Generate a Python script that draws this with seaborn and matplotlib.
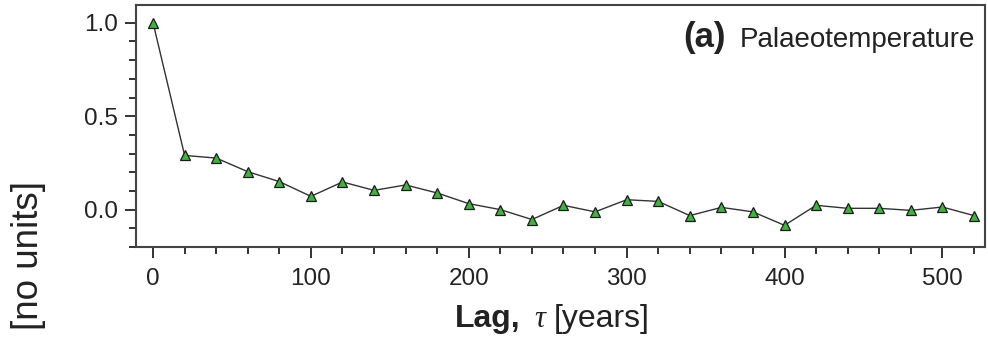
import matplotlib
matplotlib.use("Agg")
import matplotlib.pyplot as plt
import seaborn as sns
import pandas as pd
from matplotlib.ticker import MultipleLocator

# Autocorrelation of the palaeotemperature record
lag_years = [0, 20, 40, 60, 80, 100, 120, 140, 160, 180, 200, 220, 240, 260,
             280, 300, 320, 340, 360, 380, 400, 420, 440, 460, 480, 500, 520]
acf_values = [1.0, 0.29, 0.276, 0.203, 0.15, 0.071, 0.148, 0.103, 0.132, 0.089,
              0.032, 0.0, -0.053, 0.023, -0.012, 0.053, 0.044, -0.032, 0.012,
              -0.012, -0.084, 0.023, 0.007, 0.007, -0.004, 0.014, -0.032]
y_major_ticks = [0.0, 0.5, 1.0]
x_major_ticks = [0, 100, 200, 300, 400, 500]

df = pd.DataFrame({"lag": lag_years, "acf": acf_values})

sns.set_theme(style="ticks")
plt.rcParams["font.family"] = ["Liberation Sans", "DejaVu Sans"]

W, H = 988, 338
fig = plt.figure(figsize=(W / 100, H / 100), dpi=100)
ax = fig.add_axes([136 / W, 1 - 247 / H, (985 - 136) / W, (247 - 5) / H])

sns.lineplot(data=df, x="lag", y="acf", ax=ax, color="#333333", linewidth=1.0,
             marker="^", markersize=6.5, markerfacecolor="#44b044",
             markeredgecolor="#1a1a1a", markeredgewidth=0.9)

ax.set_xlim(-10.8, 527)
ax.set_ylim(-0.2, 1.095)
ax.set_xticks(x_major_ticks)
ax.set_yticks(y_major_ticks)
ax.set_yticklabels([f"{v:.1f}" for v in y_major_ticks])
ax.xaxis.set_minor_locator(MultipleLocator(20))
ax.yaxis.set_minor_locator(MultipleLocator(0.1))
ax.tick_params(axis="both", which="major", direction="out", length=8, width=1.4,
               color="#333333", labelsize=17.5, labelcolor="#222222", pad=5)
ax.tick_params(axis="both", which="minor", direction="out", length=5, width=1.4,
               color="#333333")
ax.tick_params(axis="x", which="major", pad=7)
for side in ["top", "right", "bottom", "left"]:
    ax.spines[side].set_visible(True)
    ax.spines[side].set_color("#444444")
    ax.spines[side].set_linewidth(1.5)
ax.set_xlabel("")
ax.set_ylabel("")

# Axis label pieces: bold word, italic serif tau, plain units
base = 1 - 327 / H
fig.text(455 / W, base, "Lag,", fontsize=23, fontweight="bold",
         color="#222222", ha="left", va="baseline")
fig.text(534 / W, base, "\u03c4", fontsize=22, style="italic",
         family=["Liberation Serif", "DejaVu Serif"], color="#222222",
         ha="left", va="baseline")
fig.text(554 / W, base, "[years]", fontsize=23, color="#222222",
         ha="left", va="baseline")

fig.text(29 / W, 1 - 181 / H, "[no units]", rotation=90, fontsize=26.5,
         color="#222222", ha="center", va="top")

# Panel tag and title
fig.text(683 / W, 1 - 47 / H, "(a)", fontsize=25, fontweight="bold",
         color="#222222", ha="left", va="baseline")
fig.text(975 / W, 1 - 47 / H, "Palaeotemperature", fontsize=20,
         color="#222222", ha="right", va="baseline")

fig.savefig("out.png", dpi=100)
